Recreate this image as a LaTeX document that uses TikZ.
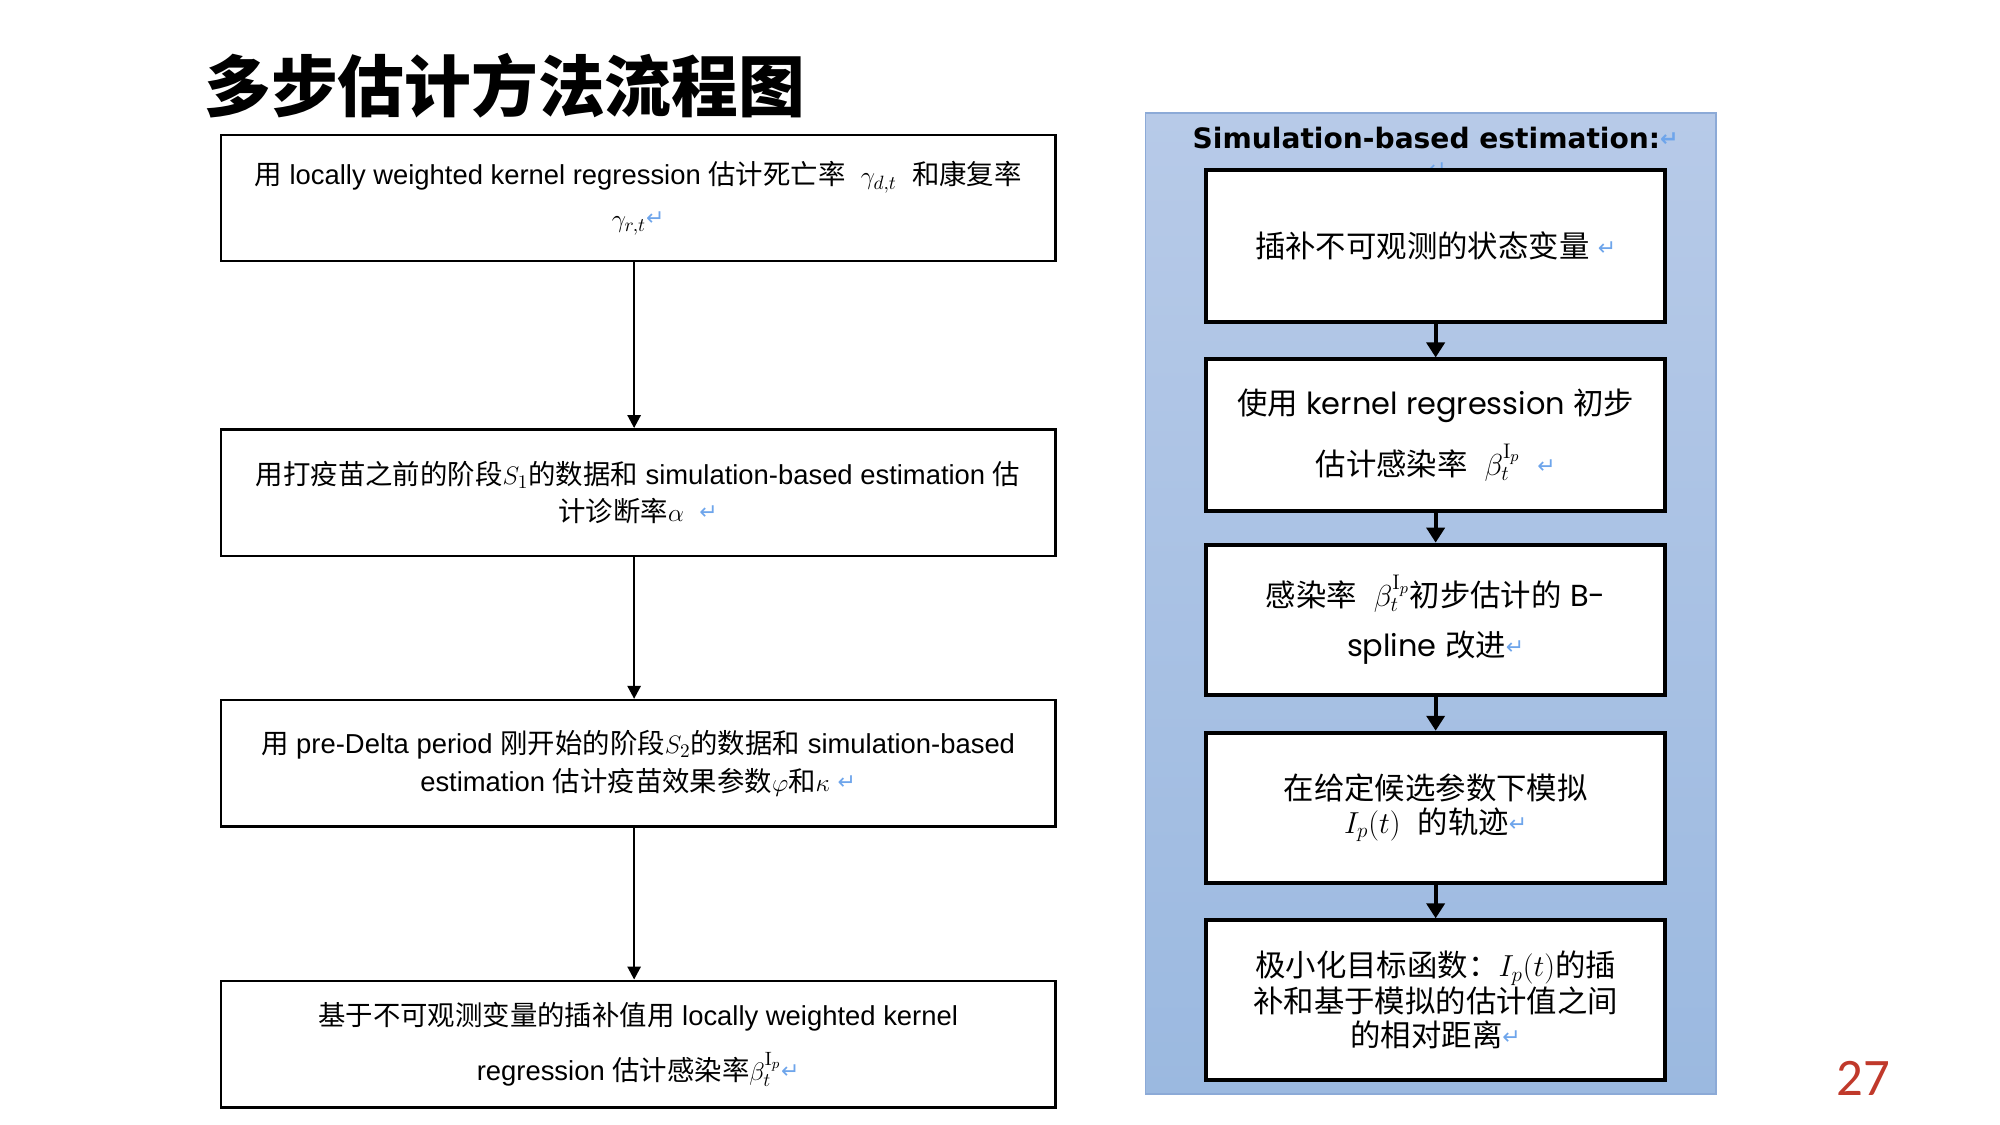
\documentclass[tikz,border=0pt]{standalone}
\usepackage[no-math]{fontspec}
\setmainfont{Liberation Sans}
\newfontfamily\cjk{Noto Sans CJK SC}
\newfontfamily\geo{Poppins}
\newfontfamily\sym{DejaVu Sans}
\newfontfamily\pagefont{Carlito}
\usetikzlibrary{arrows.meta}
\definecolor{panelTop}{RGB}{183,202,232}
\definecolor{panelBot}{RGB}{155,185,224}
\definecolor{panelEdge}{RGB}{140,170,215}
\definecolor{markBlue}{RGB}{110,165,235}
\definecolor{pageRed}{RGB}{192,57,43}
\newcommand{\zh}[1]{{\cjk #1}}
\newcommand{\ret}{{\sym\fontsize{12.5}{12.5}\selectfont\color{markBlue}\raisebox{0.15ex}{↵}}}
\tikzset{
	leftbox/.style={draw, line width=1.4pt, minimum width=16.69cm, minimum height=2.53cm, inner sep=0pt, align=center, font=\fontsize{15.6}{21.3}\selectfont},
	rightbox/.style={draw, fill=white, line width=2.2pt, minimum width=9.19cm, inner sep=0pt, align=center, font=\fontsize{17.3}{19.3}\selectfont},
	leftflow/.style={line width=1.5pt, -{Triangle[width=0.26cm,length=0.26cm]}},
	rightflow/.style={line width=2.2pt, -{Triangle[width=0.36cm,length=0.3cm]}},
}
\begin{document}
\begin{tikzpicture}[x=0.0198cm, y=-0.0198cm]
	\fill[white] (0,0) rectangle (2020,1136);
	\useasboundingbox (0,0) rectangle (2020,1136);
	% title
	\node[anchor=west, inner sep=0pt, font=\cjk\bfseries\fontsize{38}{38}\selectfont] (title) at (206,87) {多步估计方法流程图};
	% left column
	\node[leftbox] (l1) at (644.5,200) {\zh{用} locally weighted kernel regression \zh{估计死亡率} \ $\gamma_{d,t}$ \ \zh{和康复率}\\[3pt] $\gamma_{r,t}$\ret};
	\node[leftbox] (l2) at (644.5,497.5) {\zh{用打疫苗之前的阶段}$S_1$\zh{的数据和} simulation-based estimation \zh{估}\\ \zh{计诊断率}$\alpha$ \ \ret};
	\node[leftbox] (l3) at (644.5,771) {\zh{用} pre-Delta period \zh{刚开始的阶段}$S_2$\zh{的数据和} simulation-based\\ estimation \zh{估计疫苗效果参数}$\varphi$\zh{和}$\kappa$ \ret};
	\node[leftbox] (l4) at (644.5,1054.5) {\zh{基于不可观测变量的插补值用} locally weighted kernel\\[10pt] regression \zh{估计感染率}$\beta_t^{\mathrm{I}_p}$\ret};
	\foreach \a/\b in {l1/l2, l2/l3, l3/l4}
		\draw[leftflow] ([xshift=-0.08cm]\a.south) -- ([xshift=-0.08cm]\b.north);
	% right column
	\fill[top color=panelTop, bottom color=panelBot] (1157,114) rectangle (1733,1105);
	\draw[panelEdge, line width=0.8pt] (1157,114) rectangle (1733,1105);
	\node[font=\sym\bfseries\fontsize{16}{16}\selectfont] (ptitle) at (1450,139) {Simulation-based estimation:\ret};
	\node (stray) at (1452,172) {\ret};
	\node[rightbox, minimum height=3.03cm] (r1) at (1450,248.5) {\zh{插补不可观测的状态变量} \ret};
	\node[rightbox, minimum height=3.03cm] (r2) at (1450,439.5) {\zh{使用} {\geo kernel regression} \zh{初步}\\[11pt] \zh{估计感染率} \ $\beta_t^{\mathrm{I}_p}$ \ \ret};
	\node[rightbox, minimum height=3.01cm] (r3) at (1450,626) {\zh{感染率} \ $\beta_t^{\mathrm{I}_p}$\zh{初步估计的} {\geo B-}\\[9pt] {\geo spline} \zh{改进}\ret};
	\node[rightbox, minimum height=3.01cm] (r4) at (1450,816) {\zh{在给定候选参数下模拟}\\ $I_p(t)$ \ \zh{的轨迹}\ret};
	\node[rightbox, minimum height=3.19cm] (r5) at (1450,1010) {\zh{极小化目标函数：}$I_p(t)$\zh{的插}\\ \zh{补和基于模拟的估计值之间}\\ \zh{的相对距离}\ret};
	\foreach \a/\b in {r1/r2, r2/r3, r3/r4, r4/r5}
		\draw[rightflow] (\a.south) -- (\b.north);
	% page number
	\node[font=\pagefont\fontsize{30}{30}\selectfont, text=pageRed] (pagenum) at (1882,1089) {27};
\end{tikzpicture}
\end{document}
